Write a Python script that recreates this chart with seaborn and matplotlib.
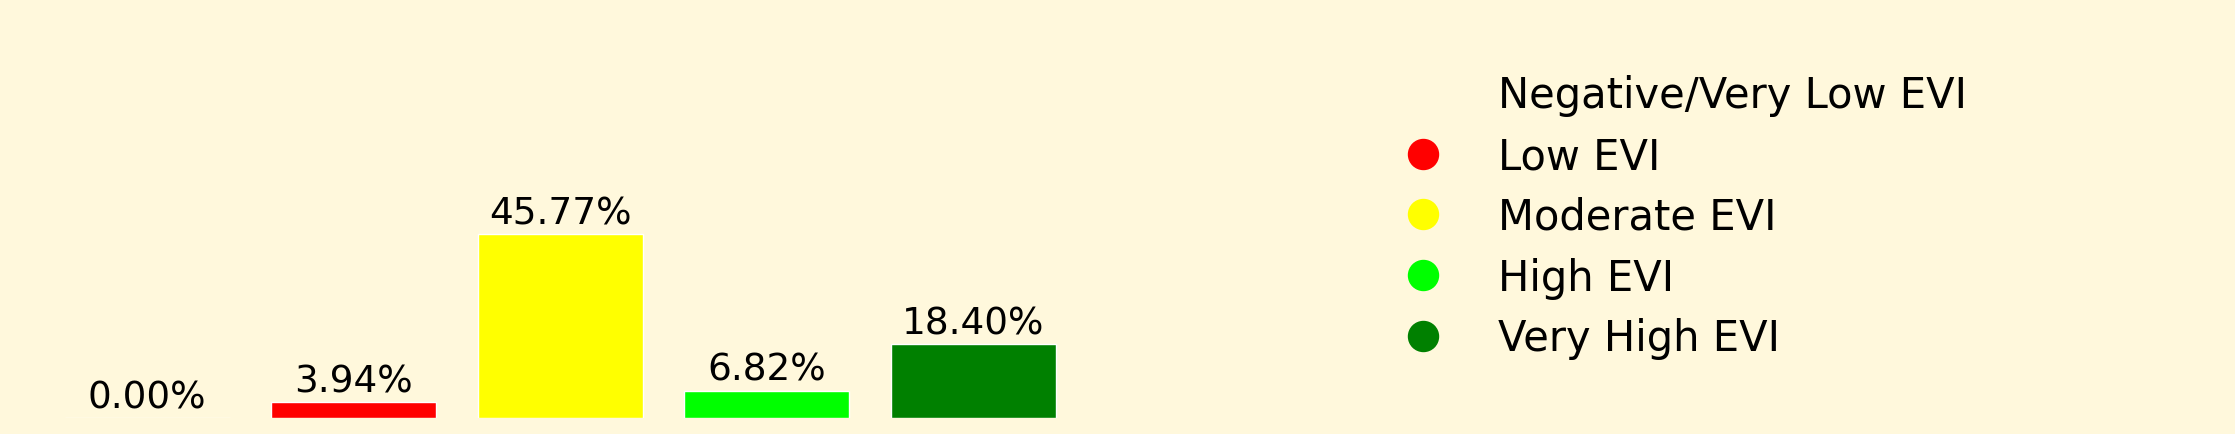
import matplotlib
matplotlib.use("Agg")
import matplotlib.pyplot as plt
from matplotlib.lines import Line2D
import seaborn as sns
import pandas as pd

categories = ["Negative/Very Low EVI", "Low EVI", "Moderate EVI", "High EVI", "Very High EVI"]
percentages = [0.00, 3.94, 45.77, 6.82, 18.40]
colors = ["#FFF8DC", "#FF0000", "#FFFF00", "#00FF00", "#008000"]
bg = "#FFF8DC"

sns.set_theme(style="white")
plt.rcParams['font.family'] = ['DejaVu Sans']
plt.rcParams['text.color'] = 'black'

df = pd.DataFrame({"category": categories, "pct": percentages})

fig = plt.figure(figsize=(22.35, 4.35), dpi=100, facecolor=bg)
ax = fig.add_axes([44 / 2235, 16 / 435, 1032.5 / 2235, 402 / 435])
ax.set_facecolor(bg)

sns.barplot(data=df, x="category", y="pct", hue="category", palette=colors,
            order=categories, hue_order=categories, dodge=False, legend=False,
            width=0.8, saturation=1, ax=ax)

label_fs = 26.9
for cont in ax.containers:
    ax.bar_label(cont, fmt="%.2f%%", fontsize=label_fs, padding=2, color="black")

ax.set_xlim(-0.5, 4.5)
ax.set_ylim(0, 100)
ax.set_axis_off()

handles = []
for c, lab in zip(colors, categories):
    handles.append(Line2D([0], [0], marker="o", linestyle="none", markersize=21.6,
                          markerfacecolor=c, markeredgecolor=c, label=lab))
fig.legend(handles=handles, loc="center left", bbox_to_anchor=(1344 / 2235, 217 / 435),
           frameon=False, fontsize=30, labelcolor="black", labelspacing=0.45)

fig.savefig("out.png", dpi=100, facecolor=bg)
